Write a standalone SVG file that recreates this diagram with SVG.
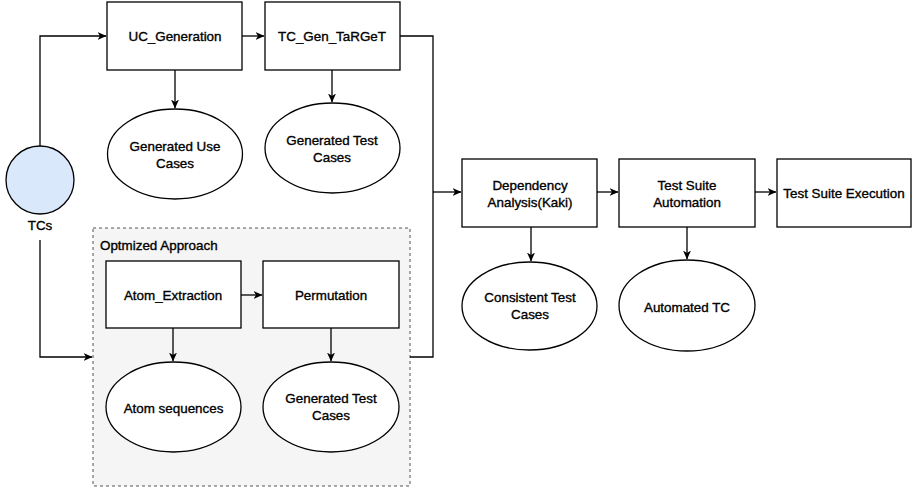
<svg xmlns="http://www.w3.org/2000/svg" width="913" height="489" viewBox="0 0 913 489">
<defs>
<style>
.n{fill:#fff;stroke:#000;stroke-width:1.3}
.t{font-family:"Liberation Sans",Arial,sans-serif;font-size:13.4px;fill:#000;stroke:#000;stroke-width:0.35;text-anchor:middle;dominant-baseline:central}
.c{fill:none;stroke:#000;stroke-width:1.3}
</style>
<marker id="a" viewBox="0 0 9 8" refX="8.5" refY="4" markerWidth="9" markerHeight="8" markerUnits="userSpaceOnUse" orient="auto">
<path d="M0,0 L9,4 L0,8 L2.5,4 z" fill="#000"/>
</marker>
</defs>
<rect width="913" height="489" fill="#fff"/>
<g id="group">
<rect x="93" y="228" width="317" height="258" fill="#f5f5f5" stroke="#555" stroke-width="1" stroke-dasharray="3,3"/>
<text class="t" x="100" y="245" style="text-anchor:start">Optmized Approach</text>
</g>
<g id="connectors">
<path class="c" d="M40,146 V36 H106" marker-end="url(#a)"/>
<path class="c" d="M242,36 H264" marker-end="url(#a)"/>
<path class="c" d="M175,70 V108" marker-end="url(#a)"/>
<path class="c" d="M332,70 V102" marker-end="url(#a)"/>
<path class="c" d="M40,240 V357 H92" marker-end="url(#a)"/>
<path class="c" d="M241,295 H262" marker-end="url(#a)"/>
<path class="c" d="M173,328 V361" marker-end="url(#a)"/>
<path class="c" d="M331,328 V361" marker-end="url(#a)"/>
<path class="c" d="M400,36 H433 V357 H410"/>
<path class="c" d="M433,192 H461" marker-end="url(#a)"/>
<path class="c" d="M597,192 H618" marker-end="url(#a)"/>
<path class="c" d="M755,192 H776" marker-end="url(#a)"/>
<path class="c" d="M531,227 V261" marker-end="url(#a)"/>
<path class="c" d="M687,227 V259" marker-end="url(#a)"/>
</g>
<g id="tcs">
<circle cx="40" cy="180" r="34" fill="#dae8fc" stroke="#000" stroke-width="1.3"/>
<text class="t" x="40" y="225">TCs</text>
</g>
<g id="uc_generation">
<rect class="n" x="107" y="2" width="135" height="68"/>
<text class="t" x="175" y="36">UC_Generation</text>
</g>
<g id="tc_gen_target">
<rect class="n" x="265" y="2" width="135" height="68"/>
<text class="t" x="332" y="36">TC_Gen_TaRGeT</text>
</g>
<g id="generated_use_cases">
<ellipse class="n" cx="175" cy="154" rx="67.5" ry="45"/>
<text class="t" x="175" y="146">Generated Use</text>
<text class="t" x="175" y="163">Cases</text>
</g>
<g id="generated_test_cases_1">
<ellipse class="n" cx="332.5" cy="148" rx="67.5" ry="45"/>
<text class="t" x="332" y="140">Generated Test</text>
<text class="t" x="332" y="157">Cases</text>
</g>
<g id="atom_extraction">
<rect class="n" x="106" y="261" width="135" height="67"/>
<text class="t" x="173" y="295">Atom_Extraction</text>
</g>
<g id="permutation">
<rect class="n" x="263" y="261" width="136" height="67"/>
<text class="t" x="331" y="295">Permutation</text>
</g>
<g id="atom_sequences">
<ellipse class="n" cx="173.5" cy="407" rx="67.5" ry="45"/>
<text class="t" x="173.5" y="408">Atom sequences</text>
</g>
<g id="generated_test_cases_2">
<ellipse class="n" cx="331" cy="407" rx="68" ry="45"/>
<text class="t" x="331" y="398">Generated Test</text>
<text class="t" x="331" y="415">Cases</text>
</g>
<g id="dependency_analysis">
<rect class="n" x="462" y="159" width="135" height="68"/>
<text class="t" x="530" y="185">Dependency</text>
<text class="t" x="530" y="202">Analysis(Kaki)</text>
</g>
<g id="test_suite_automation">
<rect class="n" x="619" y="159" width="136" height="68"/>
<text class="t" x="687" y="185">Test Suite</text>
<text class="t" x="687" y="202">Automation</text>
</g>
<g id="test_suite_execution">
<rect class="n" x="777" y="159" width="134" height="68"/>
<text class="t" x="844" y="193">Test Suite Execution</text>
</g>
<g id="consistent_test_cases">
<ellipse class="n" cx="529.5" cy="306" rx="67.5" ry="44"/>
<text class="t" x="530" y="297">Consistent Test</text>
<text class="t" x="530" y="314">Cases</text>
</g>
<g id="automated_tc">
<ellipse class="n" cx="687" cy="305.5" rx="68" ry="45.5"/>
<text class="t" x="687" y="307">Automated TC</text>
</g>
</svg>
